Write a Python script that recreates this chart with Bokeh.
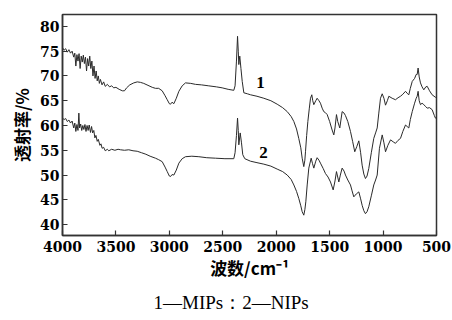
from bokeh.plotting import figure
from bokeh.models import Range1d, FixedTicker, Label, Title
from bokeh.embed import file_html
from bokeh.resources import INLINE

# wavenumber (cm^-1) and transmittance (%)
wn1 = [4000, 3985, 3970, 3955, 3940, 3925, 3910, 3895, 3885, 3875, 3865, 3855, 3845, 3835, 3825, 3815,
       3805, 3795, 3785, 3775, 3765, 3755, 3745, 3735, 3725, 3715, 3705, 3695, 3685, 3675, 3665, 3655,
       3645, 3630, 3615, 3600, 3580, 3560, 3540, 3520, 3500, 3470, 3440, 3420, 3400, 3370, 3333, 3300,
       3270, 3240, 3200, 3160, 3130, 3100, 3067, 3040, 3020, 3000, 2989, 2975, 2958, 2935, 2911, 2880,
       2849, 2800, 2755, 2700, 2631, 2560, 2506, 2450, 2397, 2385, 2372, 2362, 2355, 2350, 2341, 2330,
       2318, 2303, 2270, 2241, 2180, 2116, 2050, 1991, 1940, 1897, 1860, 1835, 1810, 1789, 1770, 1757,
       1742, 1732, 1726, 1715, 1704, 1690, 1679, 1667, 1658, 1648, 1630, 1617, 1600, 1586, 1570, 1555,
       1540, 1523, 1500, 1477, 1461, 1450, 1436, 1424, 1405, 1383, 1365, 1352, 1330, 1305, 1285, 1265,
       1245, 1227, 1210, 1196, 1180, 1165, 1150, 1134, 1110, 1087, 1070, 1055, 1040, 1024, 1008, 992,
       977, 960, 946, 915, 884, 860, 837, 815, 790, 775, 759, 745, 727, 705, 690, 681, 672, 662, 650,
       635, 619, 600, 587, 565, 541, 510, 500]
mips = [75.7, 75.2, 75.5, 74.8, 75.3, 74.6, 75.0, 73.8, 74.6, 72.0, 74.3, 73.0, 74.5, 71.5, 74.0, 72.8,
        74.2, 72.5, 73.8, 71.0, 73.5, 72.0, 74.0, 71.5, 73.0, 70.0, 72.0, 69.5, 71.0, 69.0, 70.0, 68.5,
        69.3, 68.2, 68.8, 67.9, 68.3, 67.8, 68.0, 67.6, 67.7, 67.3, 67.0, 67.0, 67.6, 68.2, 68.6, 68.8,
        68.7, 68.5, 68.1, 67.7, 67.5, 67.5, 67.0, 66.0, 65.2, 64.4, 64.3, 64.7, 64.4, 65.5, 66.9, 68.0,
        68.6, 68.5, 68.3, 68.2, 68.0, 67.8, 67.6, 67.3, 67.1, 68.0, 73.0, 78.0, 75.0, 72.3, 74.0, 71.5,
        68.9, 66.6, 66.4, 66.2, 65.9, 65.5, 65.0, 64.3, 63.6, 62.8, 61.8, 60.8, 59.3, 57.4, 55.5, 53.4,
        51.7, 53.0, 54.7, 58.0, 60.8, 63.5, 65.5, 66.2, 65.0, 64.2, 65.0, 65.5, 65.0, 64.5, 63.5, 62.8,
        62.6, 62.2, 60.8, 59.1, 58.1, 59.5, 62.2, 60.8, 59.5, 62.8, 62.5, 62.0, 60.8, 58.8, 56.8, 54.7,
        55.8, 56.9, 54.5, 52.0, 50.2, 49.3, 49.8, 51.3, 54.5, 57.4, 58.5, 59.5, 62.5, 65.5, 66.4, 65.5,
        64.1, 65.0, 65.9, 65.5, 65.2, 65.6, 65.9, 66.3, 66.9, 66.5, 66.2, 67.5, 68.9, 69.5, 70.3, 70.3, 71.6, 69.8, 68.6,
        67.8, 67.2, 67.8, 67.9, 67.0, 66.2, 65.7, 65.6]

wn2 = [4000, 3985, 3970, 3955, 3940, 3925, 3910, 3895, 3885, 3875, 3865, 3855, 3847, 3840, 3830, 3820,
       3810, 3800, 3790, 3780, 3770, 3760, 3750, 3738, 3728, 3718, 3707, 3697, 3687, 3675, 3665, 3650,
       3640, 3629, 3615, 3600, 3580, 3567, 3540, 3510, 3480, 3457, 3420, 3380, 3340, 3301, 3260, 3220,
       3180, 3130, 3100, 3067, 3040, 3020, 3000, 2989, 2975, 2958, 2935, 2911, 2880, 2849, 2790, 2724,
       2650, 2568, 2480, 2397, 2385, 2372, 2362, 2355, 2350, 2337, 2325, 2313, 2294, 2241, 2180, 2116,
       2050, 1991, 1940, 1897, 1860, 1835, 1810, 1789, 1770, 1757, 1742, 1732, 1723, 1710, 1695, 1673,
       1660, 1648, 1630, 1617, 1600, 1586, 1560, 1539, 1515, 1492, 1467, 1450, 1436, 1414, 1400, 1383,
       1365, 1352, 1330, 1305, 1290, 1274, 1250, 1227, 1210, 1196, 1180, 1165, 1150, 1134, 1110, 1087,
       1070, 1055, 1034, 1008, 992, 977, 955, 930, 905, 884, 860, 837, 815, 790, 775, 759, 745, 727,
       705, 690, 681, 672, 662, 650, 635, 619, 600, 587, 565, 541, 520, 510, 500]
nips = [61.5, 61.2, 61.4, 60.8, 61.1, 60.5, 60.9, 59.5, 60.5, 58.8, 60.2, 59.0, 62.5, 59.5, 60.3, 59.0,
        60.0, 59.2, 60.2, 58.8, 60.0, 59.0, 60.1, 58.6, 59.8, 58.5, 59.0, 57.5, 58.0, 56.8, 57.2, 56.0,
        56.3, 55.4, 55.6, 54.9, 55.2, 54.9, 55.2, 55.0, 55.2, 55.1, 55.0, 55.1, 54.9, 54.8, 54.5, 54.2,
        53.8, 53.4, 53.1, 52.7, 51.6, 50.7, 49.8, 49.7, 50.1, 50.0, 51.0, 52.4, 53.3, 53.7, 53.8, 53.7,
        53.5, 53.4, 53.3, 53.3, 54.5, 58.0, 61.5, 59.0, 56.1, 58.5, 56.5, 54.1, 53.3, 52.8, 52.5, 52.2,
        51.8, 51.2, 50.7, 50.0, 49.1, 48.0, 46.7, 45.3, 43.8, 42.6, 41.9, 43.0, 44.6, 48.0, 51.4, 53.4,
        52.3, 51.4, 52.8, 53.5, 53.0, 52.4, 51.3, 50.3, 49.6, 48.6, 47.0, 48.8, 50.7, 48.6, 50.0, 51.4,
        50.8, 50.0, 49.0, 48.0, 46.8, 45.6, 46.2, 46.6, 45.2, 43.9, 42.8, 42.2, 42.6, 43.6, 45.8, 48.0,
        49.0, 50.0, 55.4, 58.1, 56.5, 54.7, 56.0, 57.1, 56.7, 56.4, 57.0, 57.4, 58.8, 60.1, 59.8, 59.5, 61.2, 62.8,
        64.5, 65.5, 65.9, 66.9, 65.0, 64.2, 64.5, 64.2, 63.8, 63.5, 63.6, 63.2, 62.0, 61.5, 61.3]

x_ticks = [4000, 3500, 3000, 2500, 2000, 1500, 1000, 500]
y_ticks = [40, 45, 50, 55, 60, 65, 70, 75, 80]
curve_names = ["1", "2"]
caption = "1—MIPs：2—NIPs"

p = figure(width=452, height=320, output_backend="svg", toolbar_location=None,
           x_range=Range1d(4000, 500), y_range=Range1d(37.8, 82.4),
           min_border_left=62, min_border_right=16, min_border_top=14)
p.background_fill_color = "white"
p.border_fill_color = "white"
p.outline_line_color = "#333333"
p.outline_line_width = 1.5
p.grid.visible = False

line_col = "#2a2a2a"
p.line(wn1, mips, line_color=line_col, line_width=1)
p.line(wn2, nips, line_color=line_col, line_width=1)

for ax in (p.xaxis[0], p.yaxis[0]):
    ax.axis_line_color = "#333333"
    ax.axis_line_width = 1.5
    ax.major_tick_in = 5
    ax.major_tick_out = 0
    ax.major_tick_line_color = "#333333"
    ax.major_tick_line_width = 1.2
    ax.minor_tick_line_color = None
    ax.major_label_text_font = "DejaVu Serif"
    ax.major_label_text_font_style = "bold"
    ax.major_label_text_font_size = "14px"
    ax.major_label_text_color = "black"
    ax.axis_label_text_font = "Noto Sans CJK SC"
    ax.axis_label_text_font_style = "bold"
    ax.axis_label_text_font_size = "17px"
    ax.axis_label_text_color = "black"

p.xaxis.ticker = FixedTicker(ticks=x_ticks)
p.yaxis.ticker = FixedTicker(ticks=y_ticks)
p.xaxis.major_label_standoff = 5
p.yaxis.major_label_standoff = 3
p.xaxis.axis_label = "波数/cm⁻¹"
p.yaxis.axis_label = "透射率/%"
p.xaxis.axis_label_standoff = 0
p.yaxis.axis_label_standoff = 3

p.add_layout(Label(x=2147, y=68.7, text=curve_names[0], text_font="Liberation Serif",
                   text_font_style="bold", text_font_size="17px", text_align="center",
                   text_baseline="middle", text_color="black"))
p.add_layout(Label(x=2119, y=54.5, text=curve_names[1], text_font="Liberation Serif",
                   text_font_style="bold", text_font_size="17px", text_align="center",
                   text_baseline="middle", text_color="black"))

t = Title(text=caption, align="left", offset=91, text_font="Liberation Serif",
          text_font_style="normal", text_font_size="19px", text_color="black", standoff=15)
p.add_layout(t, "below")

open("out.html", "w").write(file_html(p, INLINE))
